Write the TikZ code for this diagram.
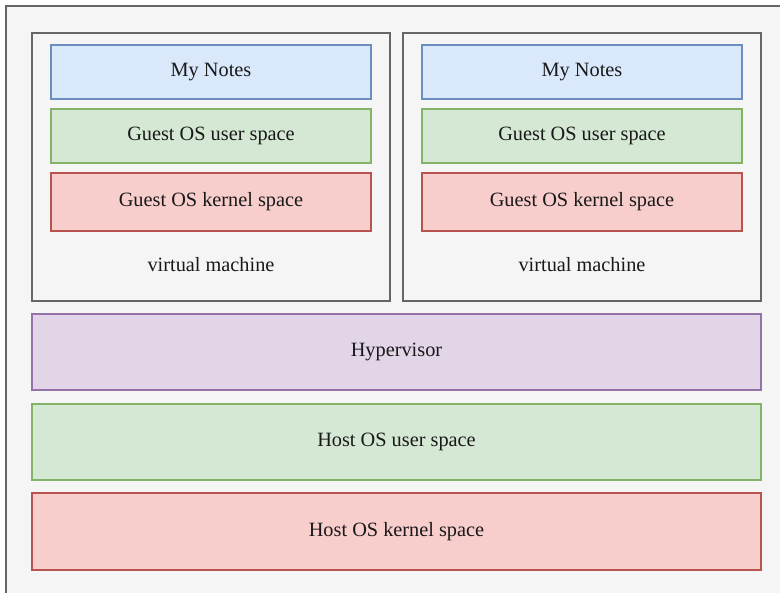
\documentclass[tikz,border=0pt]{standalone}
\usepackage{fontspec}
\setmainfont{Liberation Serif}
\definecolor{grayfill}{HTML}{F5F5F5}
\definecolor{graydraw}{HTML}{666666}
\definecolor{bluefill}{HTML}{DAE8FC}
\definecolor{bluedraw}{HTML}{6C8EBF}
\definecolor{greenfill}{HTML}{D5E8D4}
\definecolor{greendraw}{HTML}{82B366}
\definecolor{redfill}{HTML}{F8CECC}
\definecolor{reddraw}{HTML}{B85450}
\definecolor{purplefill}{HTML}{E1D5E7}
\definecolor{purpledraw}{HTML}{9673A6}
\tikzset{
  layer/.style={line width=1.2pt, font=\fontsize{20.3}{23}\selectfont, text=black!90},
  grayb/.style={layer, draw=graydraw, fill=grayfill},
  blueb/.style={layer, draw=bluedraw, fill=bluefill},
  greenb/.style={layer, draw=greendraw, fill=greenfill},
  redb/.style={layer, draw=reddraw, fill=redfill},
  purpleb/.style={layer, draw=purpledraw, fill=purplefill},
  lbl/.style={font=\fontsize{20.3}{23}\selectfont, text=black!90},
}
\begin{document}
\begin{tikzpicture}[x=1pt, y=-1pt]
\useasboundingbox (0,0) rectangle (780,593);
\begin{scope}
\clip (0,0) rectangle (780,593);
% host frame, running past the page edge
\draw[grayb] (6,6) rectangle (790,603);
\end{scope}

% two guest machines
\foreach \x/\n in {32/a, 403/b} {
  \draw[grayb] (\x,33) rectangle ++(358,268);
  \node[lbl] (vm\n) at (\x+179,265) {virtual machine};
  \draw[blueb] (\x+19,45) rectangle ++(320,54) node[pos=0.5] (notes\n) {My Notes};
  \draw[greenb] (\x+19,109) rectangle ++(320,54) node[pos=0.5] (gus\n) {Guest OS user space};
  \draw[redb] (\x+19,173) rectangle ++(320,58) node[pos=0.5] (gks\n) {Guest OS kernel space};
}

% host layers
\draw[purpleb] (32,314) rectangle (761,390) node[pos=0.5] (hyp) {Hypervisor};
\draw[greenb] (32,404) rectangle (761,480) node[pos=0.5] (hus) {Host OS user space};
\draw[redb] (32,493) rectangle (761,570) node[pos=0.5] (hks) {Host OS kernel space};
\end{tikzpicture}
\end{document}
